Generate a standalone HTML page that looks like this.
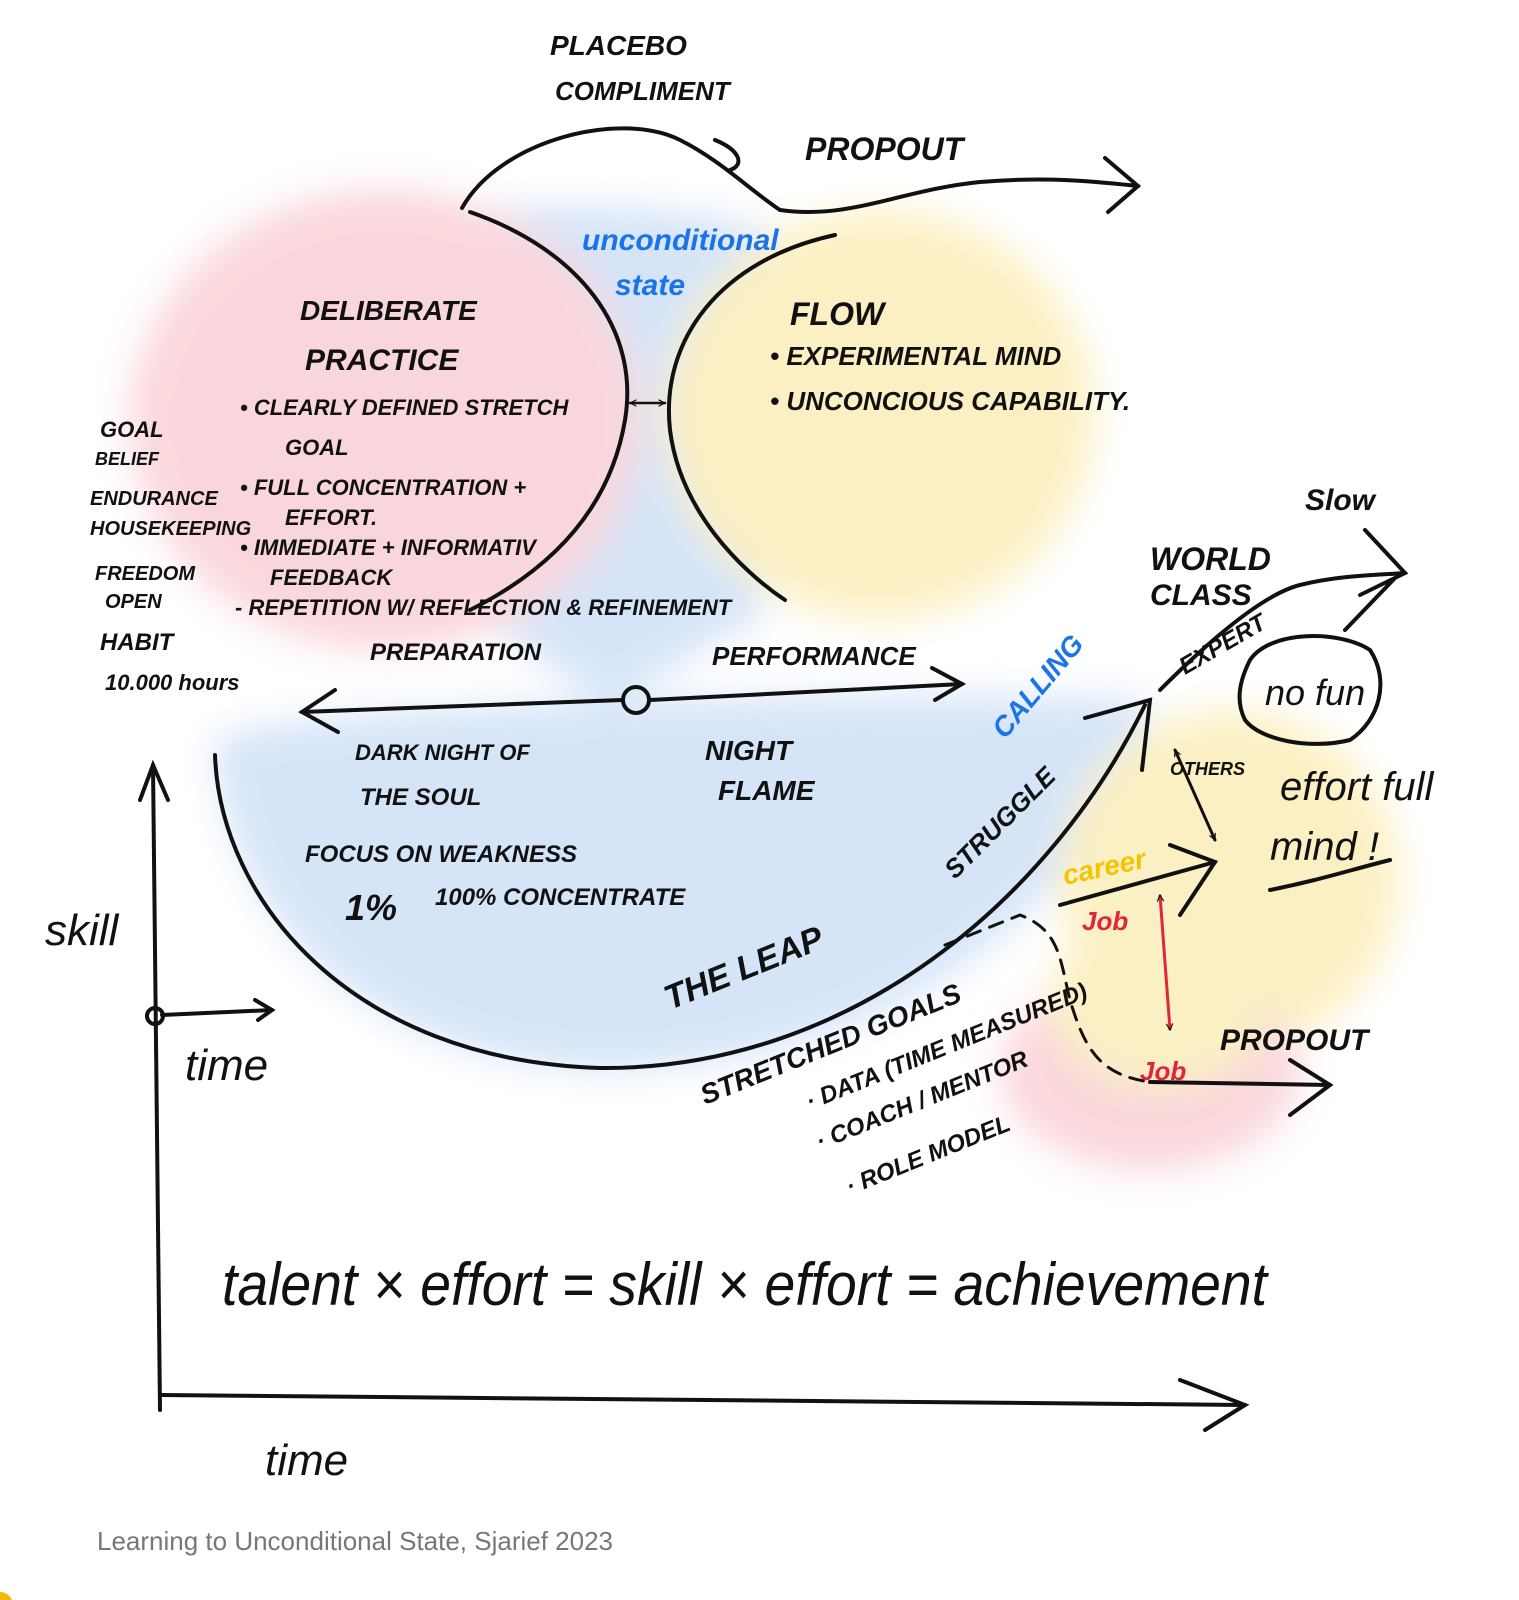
<!DOCTYPE html>
<html><head><meta charset="utf-8"><style>
html,body{margin:0;padding:0;background:#fff;}
svg{display:block}
text{font-family:"Liberation Sans",sans-serif;fill:#111;}
.h{font-style:italic;font-weight:bold;}
</style></head><body>
<svg width="1519" height="1600" viewBox="0 0 1519 1600" xmlns="http://www.w3.org/2000/svg">
<defs>
<filter id="b" x="-30%" y="-30%" width="160%" height="160%"><feGaussianBlur stdDeviation="18"/></filter>
<marker id="a" viewBox="0 0 20 20" refX="18" refY="10" markerWidth="8" markerHeight="8" orient="auto-start-reverse" markerUnits="userSpaceOnUse"><path d="M2,2 L18,10 L2,18" fill="none" stroke="#111" stroke-width="3"/></marker>
</defs>
<g filter="url(#b)" opacity="0.85">
<path d="M480,210 C600,200 720,210 800,240 L760,620 C700,640 640,700 600,700 L470,610 Z" fill="#cfe0f7"/>
<path d="M215,740 C300,700 900,690 1150,700 C1100,900 900,1070 600,1070 C350,1060 220,900 215,740 Z" fill="#cfe0f7"/>
<ellipse cx="385" cy="420" rx="255" ry="230" fill="#f9d0d6"/>
<ellipse cx="880" cy="415" rx="215" ry="205" fill="#fbeeba"/>
<ellipse cx="1230" cy="880" rx="170" ry="170" fill="#fbeeba"/>
<ellipse cx="1150" cy="1070" rx="150" ry="100" fill="#f9d0d6"/>
<ellipse cx="1160" cy="1000" rx="110" ry="90" fill="#fbeeba"/>
</g>
<g fill="none" stroke="#111" stroke-width="4" stroke-linecap="round">
<path d="M462,208 C500,140 620,110 680,140 C720,160 750,190 780,210"/>
<path d="M780,210 C850,220 900,190 980,182 C1050,176 1100,182 1138,186"/>
<path d="M1105,158 L1138,186 L1108,212"/>
<path d="M715,140 C740,150 745,165 730,170"/>
<path d="M470,212 C580,250 640,330 625,420 C610,510 550,570 470,610"/>
<path d="M835,235 C720,260 660,340 670,430 C680,510 740,570 785,600"/>
<path d="M630,403 L665,403" marker-start="url(#a)" marker-end="url(#a)" stroke-width="2.5"/>
<path d="M302,712 L622,700 M650,700 L962,684"/>
<path d="M335,690 L302,712 L338,732 M932,668 L962,684 L935,700"/>
<circle cx="636" cy="700" r="13"/>
<path d="M215,755 C220,900 350,1060 600,1068 C850,1070 1050,900 1145,705"/>
<path d="M1085,718 L1150,700 L1142,770"/>
<path d="M153,765 L160,1410"/><path d="M140,800 L153,765 L168,800"/>
<path d="M160,1395 L1245,1405"/>
<path d="M1180,1380 L1245,1405 L1205,1430"/>
<circle cx="155" cy="1016" r="8"/>
<path d="M162,1015 L272,1010"/>
<path d="M255,1000 L272,1010 L258,1020"/>
<path d="M1160,690 C1200,650 1260,595 1300,585 C1340,575 1380,575 1405,573"/>
<path d="M1365,530 L1405,573 L1360,595 M1345,630 L1395,578"/>
<path d="M1250,660 C1270,630 1340,630 1370,650 C1390,680 1380,720 1350,740 C1310,750 1260,740 1245,720 C1235,700 1240,680 1250,660 Z"/>
<path d="M1060,905 L1215,862"/><path d="M1170,845 L1215,862 L1180,915"/>
<path d="M1175,750 L1215,840" marker-start="url(#a)" marker-end="url(#a)" stroke-width="3"/>
<path d="M945,945 L1020,915 C1060,930 1060,960 1070,1000 C1085,1050 1100,1075 1150,1082" stroke-dasharray="14 10" stroke-width="3"/>
<path d="M1150,1082 L1330,1085"/>
<path d="M1290,1060 L1330,1085 L1290,1115"/>
<path d="M1270,890 C1320,880 1350,870 1390,860"/>
</g>
<path d="M1160,895 L1170,1030" stroke="#e0263a" stroke-width="3" fill="none" marker-start="url(#a)" marker-end="url(#a)"/>
<g class="h">
<text x="550" y="55" font-size="28">PLACEBO</text>
<text x="555" y="100" font-size="26">COMPLIMENT</text>
<text x="805" y="160" font-size="32">PROPOUT</text>
<text x="582" y="250" font-size="30" style="fill:#1a73e8">unconditional</text>
<text x="615" y="295" font-size="30" style="fill:#1a73e8">state</text>
<text x="300" y="320" font-size="28">DELIBERATE</text>
<text x="305" y="370" font-size="30">PRACTICE</text>
<text x="240" y="415" font-size="22">• CLEARLY DEFINED STRETCH</text>
<text x="285" y="455" font-size="22">GOAL</text>
<text x="240" y="495" font-size="22">• FULL CONCENTRATION +</text>
<text x="285" y="525" font-size="22">EFFORT.</text>
<text x="240" y="555" font-size="22">• IMMEDIATE + INFORMATIV</text>
<text x="270" y="585" font-size="22">FEEDBACK</text>
<text x="235" y="615" font-size="22">- REPETITION W/ REFLECTION &amp; REFINEMENT</text>
<text x="370" y="660" font-size="24">PREPARATION</text>
<text x="100" y="437" font-size="22">GOAL</text>
<text x="95" y="465" font-size="18">BELIEF</text>
<text x="90" y="505" font-size="20">ENDURANCE</text>
<text x="90" y="535" font-size="20">HOUSEKEEPING</text>
<text x="95" y="580" font-size="20">FREEDOM</text>
<text x="105" y="608" font-size="20">OPEN</text>
<text x="100" y="650" font-size="24">HABIT</text>
<text x="105" y="690" font-size="22">10.000 hours</text>
<text x="790" y="325" font-size="32">FLOW</text>
<text x="770" y="365" font-size="26">• EXPERIMENTAL MIND</text>
<text x="770" y="410" font-size="26">• UNCONCIOUS CAPABILITY.</text>
<text x="712" y="665" font-size="26">PERFORMANCE</text>
<text x="355" y="760" font-size="22">DARK NIGHT OF</text>
<text x="360" y="805" font-size="24">THE SOUL</text>
<text x="305" y="862" font-size="24">FOCUS ON WEAKNESS</text>
<text x="345" y="920" font-size="36">1%</text>
<text x="435" y="905" font-size="24">100% CONCENTRATE</text>
<text x="705" y="760" font-size="28">NIGHT</text>
<text x="718" y="800" font-size="28">FLAME</text>
<text x="1005" y="740" font-size="28" transform="rotate(-50 1005 740)" style="fill:#1a73e8">CALLING</text>
<text x="955" y="880" font-size="26" transform="rotate(-45 955 880)">STRUGGLE</text>
<text x="670" y="1010" font-size="34" transform="rotate(-22 670 1010)">THE LEAP</text>
<text x="1065" y="885" font-size="28" transform="rotate(-12 1065 885)" style="fill:#f5c400">career</text>
<text x="1082" y="930" font-size="26" style="fill:#e0263a">Job</text>
<text x="1140" y="1080" font-size="26" style="fill:#e0263a">Job</text>
<text x="705" y="1105" font-size="28" transform="rotate(-22 705 1105)">STRETCHED GOALS</text>
<text x="810" y="1110" font-size="24" transform="rotate(-22 810 1110)">· DATA (TIME MEASURED)</text>
<text x="820" y="1150" font-size="24" transform="rotate(-22 820 1150)">· COACH / MENTOR</text>
<text x="850" y="1195" font-size="24" transform="rotate(-22 850 1195)">· ROLE MODEL</text>
<text x="1150" y="570" font-size="32">WORLD</text>
<text x="1150" y="605" font-size="30">CLASS</text>
<text x="1305" y="510" font-size="30">Slow</text>
<text x="1185" y="675" font-size="24" transform="rotate(-30 1185 675)">EXPERT</text>
<text x="1265" y="705" font-size="36" style="font-weight:normal">no fun</text>
<text x="1170" y="775" font-size="18">OTHERS</text>
<text x="1280" y="800" font-size="40" style="font-weight:normal">effort full</text>
<text x="1270" y="860" font-size="40" style="font-weight:normal">mind !</text>
<text x="1220" y="1050" font-size="30">PROPOUT</text>
<text x="45" y="945" font-size="44" style="font-weight:normal">skill</text>
<text x="185" y="1080" font-size="44" style="font-weight:normal">time</text>
<text x="265" y="1475" font-size="44" style="font-weight:normal">time</text>
<text x="222" y="1305" font-size="60" textLength="1045" lengthAdjust="spacingAndGlyphs" style="font-weight:normal">talent × effort = skill × effort = achievement</text>
</g>
<text x="97" y="1550" font-size="26" style="fill:#777">Learning to Unconditional State, Sjarief 2023</text>
<path d="M0,1592 Q8,1592 12,1600 L0,1600Z" fill="#f5b800"/>
</svg>
</body></html>
